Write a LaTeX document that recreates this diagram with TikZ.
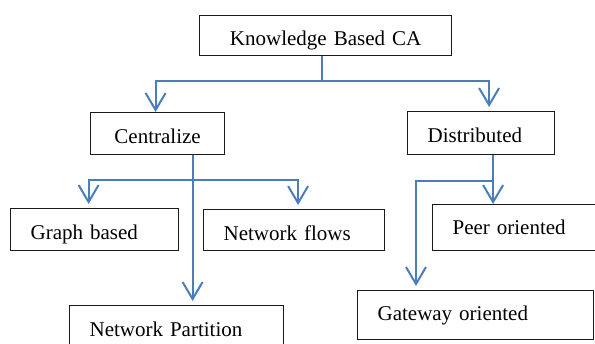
\documentclass[tikz,border=0pt]{standalone}
\usepackage{fontspec}
\setmainfont{Liberation Serif}
\usetikzlibrary{arrows.meta}
\definecolor{linkblue}{HTML}{4A7EBB}
\definecolor{edge}{HTML}{1A1A1A}
\tikzset{
  >={Straight Barb[length=17pt,width=20pt]},
  box/.style={draw=edge,line width=1.2pt,anchor=north west,inner xsep=20pt,inner ysep=0pt,align=left,font=\fontsize{21}{25}\selectfont},
  flow/.style={->,line width=2pt,draw=linkblue,shorten >=4pt}
}
\begin{document}
\begin{tikzpicture}[x=1pt,y=-1pt]
  \useasboundingbox (0,0) rectangle (595,344);
  % top level
  \node[box,align=center,text width=212pt,text height=30pt,text depth=10pt] (kb) at (199,15) {Knowledge Based CA};
  % second level
  \node[box,align=center,text width=94pt,text height=31pt,text depth=11pt] (cen) at (90,112) {Centralize};
  \node[box,text width=107pt,text height=31pt,text depth=12pt] (dist) at (407,111) {Distributed};
  % leaves
  \node[box,text width=128pt,text height=31pt,text depth=11pt] (graph) at (10,208) {Graph based};
  \node[box,text width=141pt,text height=31pt,text depth=10pt] (flows) at (203,209) {Network flows};
  \node[box,text width=126pt,text height=30pt,text depth=16pt] (peer) at (432,204) {Peer oriented};
  \node[box,text width=174pt,text height=31pt,text depth=24pt] (part) at (69,305) {Network Partition};
  \node[box,text width=196pt,text height=30pt,text depth=19pt] (gate) at (357,290) {Gateway oriented};

  \draw[flow,shorten >=0pt] ([xshift=-4pt]kb.south) -- ++(0,25) -| ([xshift=-2pt]cen.north);
  \draw[flow] ([xshift=-4pt]kb.south) -- ++(0,25) -| ([xshift=8pt]dist.north);
  \draw[flow] ([xshift=35pt]cen.south) -- ([xshift=35pt]cen.south |- part.north);
  \draw[flow] ([xshift=35pt]cen.south) ++(0,25) -| ([xshift=-6pt]graph.north);
  \draw[flow] ([xshift=35pt]cen.south) ++(0,25) -| ([xshift=4pt]flows.north);
  \draw[flow,shorten >=0pt] ([xshift=12pt]dist.south) -- ([xshift=12pt]dist.south |- peer.north);
  \draw[flow] ([xshift=12pt]dist.south) ++(0,26) -| ([xshift=59pt]gate.north west);
\end{tikzpicture}
\end{document}
